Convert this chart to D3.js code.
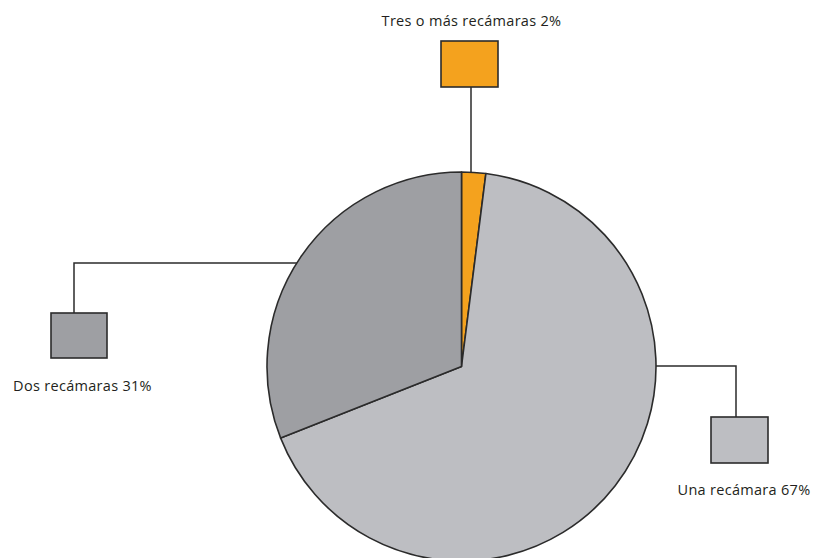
<!DOCTYPE html>
<html><head><meta charset="utf-8">
<script src="https://cdn.jsdelivr.net/npm/d3@7"></script>
<style>body{margin:0;background:#fff}svg{display:block}text{font-family:"Open Sans",sans-serif;fill:#231f20}</style>
</head><body><svg width="814" height="558"></svg>
<script>
const categories = ["Tres o más recámaras", "Una recámara", "Dos recámaras"];
const values = [2, 67, 31];
const colors = ["#F4A21E", "#BDBEC2", "#9E9FA3"];

const svg = d3.select("svg");
const cx = 461.5, cy = 366.5, R = 194.5;
const pie = d3.pie().sort(null).value(d => d)(values);
const arc = d3.arc().innerRadius(0).outerRadius(R);
const g = svg.append("g").attr("transform", `translate(${cx},${cy})`);
g.selectAll("path").data(pie).join("path")
  .attr("d", arc).attr("fill", (d, i) => colors[i])
  .attr("stroke", "#2b2b2b").attr("stroke-width", 1.6).attr("stroke-linejoin", "round");

// legend layout per slice: box position, leader path, label position
const layout = [
  {box: [441, 41, 57, 46], leader: [[471, 87], [471, null]], label: [471.5, 25.5, "middle"]},
  {box: [711, 417, 57, 46], leader: [[null, 366], [736, 366], [736, 417]], label: [744, 495, "middle"]},
  {box: [51, 313, 56, 45], leader: [[null, 263], [74, 263], [74, 313]], label: [82.5, 390.5, "middle"]}
];
function circleX(y, side) { const dy = y - cy; return cx + side * Math.sqrt(R * R - dy * dy); }
function circleY(x) { const dx = x - cx; return cy - Math.sqrt(R * R - dx * dx); }

layout.forEach((L, i) => {
  let pts = L.leader.map(p => p.slice());
  if (i === 0) pts[1][1] = circleY(pts[1][0]);
  if (i === 1) pts[0][0] = circleX(pts[0][1], 1);
  if (i === 2) pts[0][0] = circleX(pts[0][1], -1);
  svg.append("path").attr("d", d3.line()(pts)).attr("fill", "none")
    .attr("stroke", "#2b2b2b").attr("stroke-width", 1.5);
  svg.append("rect").attr("x", L.box[0]).attr("y", L.box[1]).attr("width", L.box[2]).attr("height", L.box[3])
    .attr("fill", colors[i]).attr("stroke", "#2b2b2b").attr("stroke-width", 1.6);
  svg.append("text").attr("x", L.label[0]).attr("y", L.label[1]).attr("text-anchor", L.label[2])
    .attr("font-size", 14.5).attr("font-weight", 500).attr("letter-spacing", 0.3)
    .text(`${categories[i]} ${values[i]}%`);
});
</script></body></html>
